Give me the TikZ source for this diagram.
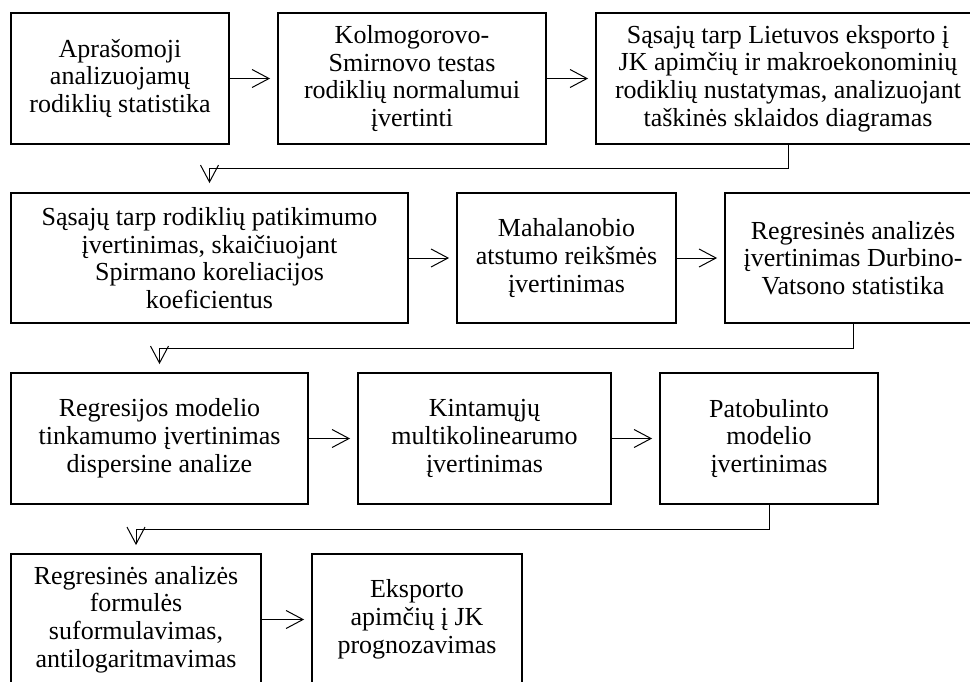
\documentclass[tikz,border=0pt]{standalone}
\usepackage{fontspec}
\setmainfont{Liberation Serif}
\usetikzlibrary{arrows.meta}
\begin{document}
\begin{tikzpicture}[x=1pt,y=1pt,
  box/.style={draw, line width=1.8pt, inner sep=0pt, align=center,
    font=\fontsize{26pt}{27.8pt}\selectfont},
  arr/.style={line width=1pt, -{Straight Barb[length=17pt,width=18pt,line width=1pt]}}]
\useasboundingbox (0,0) rectangle (970,-681);
\clip (0,0) rectangle (970,-681);
% row 1
\node[box, minimum width=218pt, minimum height=131pt] (b1) at (120,-78.5) {Aprašomoji\\analizuojamų\\rodiklių statistika};
\node[box, minimum width=268pt, minimum height=131pt] (b2) at (412,-78.5) {Kolmogorovo-\\Smirnovo testas\\rodiklių normalumui\\įvertinti};
\node[box, minimum width=384pt, minimum height=131pt] (b3) at (788,-78.5) {Sąsajų tarp Lietuvos eksporto į\\JK apimčių ir makroekonominių\\rodiklių nustatymas, analizuojant\\taškinės sklaidos diagramas};
% row 2
\node[box, minimum width=397pt, minimum height=130pt] (b4) at (209.5,-258) {Sąsajų tarp rodiklių patikimumo\\įvertinimas, skaičiuojant\\Spirmano koreliacijos\\koeficientus};
\node[box, minimum width=219pt, minimum height=130pt] (b5) at (566.5,-258) {Mahalanobio\\atstumo reikšmės\\įvertinimas};
\node[box, minimum width=256pt, minimum height=130pt] (b6) at (853,-258) {Regresinės analizės\\įvertinimas Durbino-\\Vatsono statistika};
% row 3
\node[box, minimum width=297pt, minimum height=131pt] (b7) at (159.5,-438.5) {Regresijos modelio\\tinkamumo įvertinimas\\dispersine analize};
\node[box, minimum width=253pt, minimum height=131pt] (b8) at (484.5,-438.5) {Kintamųjų\\multikolinearumo\\įvertinimas};
\node[box, minimum width=218pt, minimum height=131pt] (b9) at (769,-438.5) {Patobulinto\\modelio\\įvertinimas};
% row 4
\node[box, minimum width=250pt, minimum height=131pt] (b10) at (136,-619.5) {Regresinės analizės\\formulės\\suformulavimas,\\antilogaritmavimas};
\node[box, minimum width=210pt, minimum height=131pt] (b11) at (417,-619.5) {Eksporto\\apimčių į JK\\prognozavimas};
% horizontal arrows
\draw[arr] (b1.east) -- ([xshift=-7pt]b2.west);
\draw[arr] (b2.east) -- ([xshift=-7pt]b3.west);
\draw[arr] (b4.east) -- ([xshift=-7pt]b5.west);
\draw[arr] (b5.east) -- ([xshift=-7pt]b6.west);
\draw[arr] (b7.east) -- ([xshift=-7pt]b8.west);
\draw[arr] (b8.east) -- ([xshift=-7pt]b9.west);
\draw[arr] (b10.east) -- ([xshift=-7pt]b11.west);
% row-to-row connectors
\draw[arr] (b3.south) -- ++(0,-24) -| ([yshift=9pt]b4.north);
\draw[arr] (b6.south) -- ++(0,-25) -| ([yshift=8pt]b7.north);
\draw[arr] (b9.south) -- ++(0,-25) -| ([yshift=8pt]b10.north);
\end{tikzpicture}
\end{document}
